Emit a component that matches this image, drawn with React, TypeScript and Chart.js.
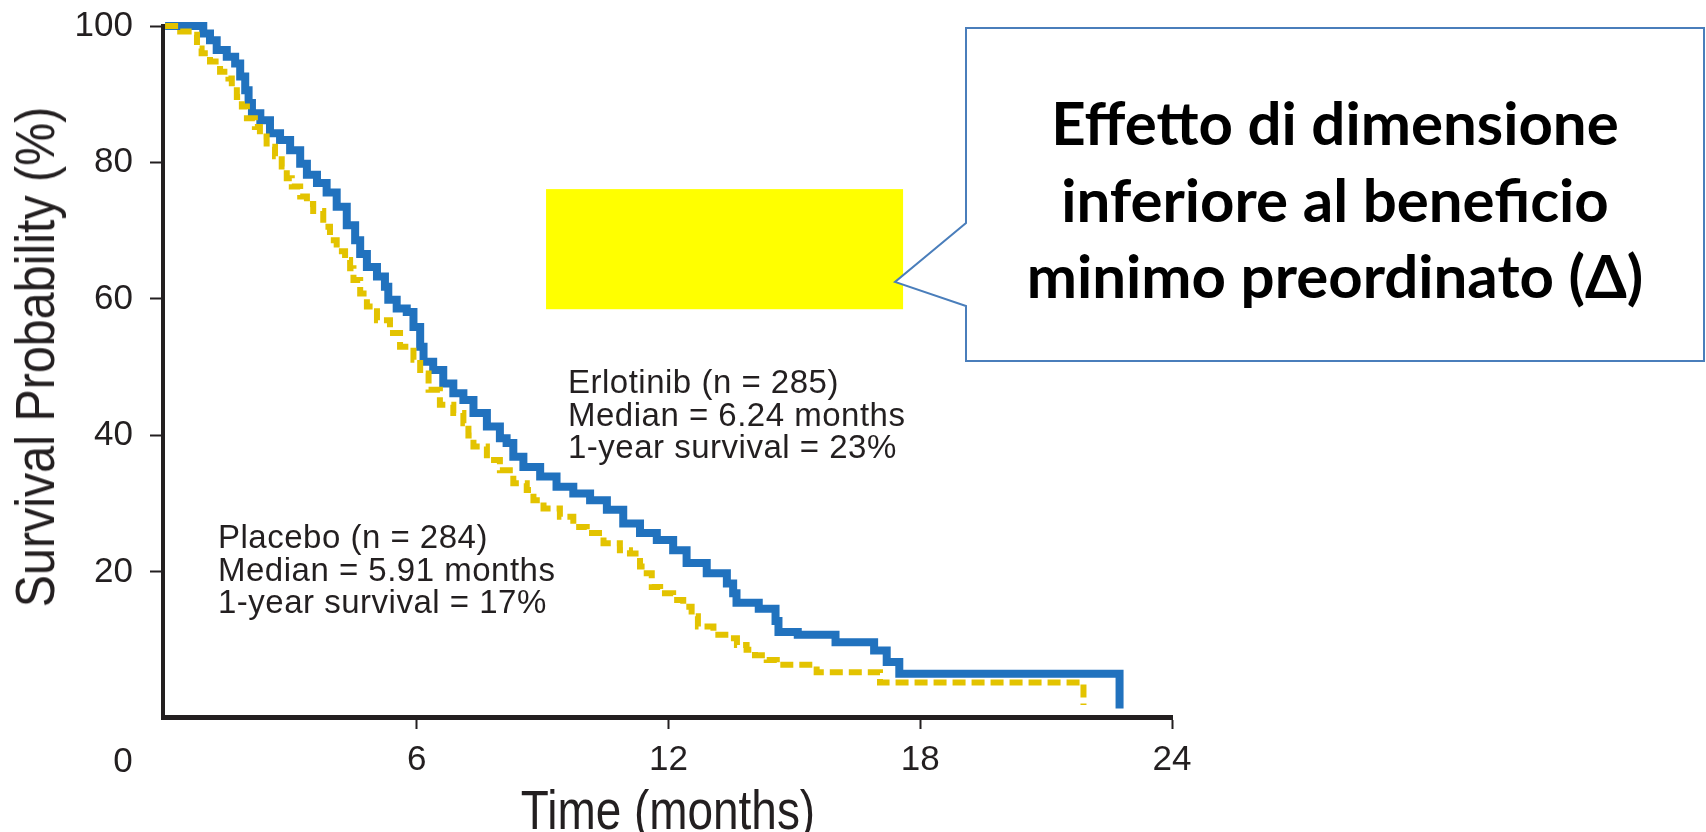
import React, { useEffect, useRef } from 'react';
import { Chart, registerables } from 'chart.js';

Chart.register(...registerables);

// ---- Data ----
const erlotinibMonths = [
  0, 0.63, 0.91, 1.07, 1.23, 1.47, 1.67, 1.79, 1.91, 1.99,
  2.07, 2.27, 2.5, 2.74, 2.98, 3.22, 3.38, 3.62, 3.85, 4.09,
  4.33, 4.53, 4.65, 4.81, 5.05, 5.24, 5.32, 5.52, 5.76, 5.92,
  6.08, 6.16, 6.39, 6.63, 6.87, 7.11, 7.35, 7.67, 7.98, 8.14,
  8.3, 8.54, 8.94, 9.33, 9.73, 10.13, 10.53, 10.92, 11.32, 11.72,
  12.11, 12.43, 12.91, 13.39, 13.54, 13.62, 14.15, 14.55, 14.62, 15.08,
  15.98, 16.9, 17.2, 17.5, 22.75,
];
const erlotinibSurvival = [
  100, 100, 98.9, 97.9, 96.5, 95.5, 94.5, 92.6, 90.6, 88.7,
  87.2, 86.2, 84.3, 83.3, 81.8, 79.8, 78.2, 77.0, 75.6, 73.5,
  70.8, 68.6, 66.6, 64.7, 63.3, 61.8, 59.9, 58.6, 58.1, 55.9,
  53.0, 50.8, 49.6, 47.6, 46.2, 45.2, 43.3, 41.3, 39.6, 38.9,
  36.9, 35.4, 34.0, 32.5, 31.5, 30.5, 29.1, 27.1, 25.7, 24.7,
  23.2, 21.3, 19.8, 18.3, 16.9, 15.5, 14.6, 12.8, 11.2, 10.8,
  9.7, 8.5, 6.8, 5.1, 0,
];
const placeboMonths = [
  0, 0.08, 0.36, 0.64, 0.76, 0.87, 1.07, 1.31, 1.51, 1.59,
  1.71, 1.83, 1.95, 2.14, 2.26, 2.42, 2.62, 2.78, 2.9, 3.02,
  3.22, 3.38, 3.53, 3.77, 3.93, 4.09, 4.29, 4.41, 4.49, 4.65,
  4.81, 5.05, 5.36, 5.6, 5.92, 6.08, 6.28, 6.55, 6.87, 7.11,
  7.23, 7.35, 7.67, 7.98, 8.3, 8.62, 8.78, 9.02, 9.41, 9.73,
  10.05, 10.45, 10.84, 11.08, 11.32, 11.48, 11.6, 11.8, 12.11, 12.35,
  12.55, 12.7, 13.07, 13.47, 13.63, 13.86, 14.06, 14.34, 14.58, 15.53,
  17.04, 21.89,
];
const placeboSurvival = [
  100, 100, 99.2, 98.7, 96.7, 96.0, 94.8, 93.3, 92.3, 91.1,
  89.6, 88.2, 86.5, 85.2, 83.8, 82.3, 80.9, 79.4, 77.7, 76.5,
  75.0, 73.9, 72.9, 70.6, 68.6, 67.0, 65.7, 64.5, 62.8, 60.8,
  58.9, 56.9, 55.0, 53.0, 51.1, 49.1, 46.7, 44.5, 43.3, 41.8,
  40.0, 38.4, 36.4, 34.9, 33.0, 32.0, 30.5, 29.3, 28.1, 26.6,
  25.7, 24.2, 23.2, 22.7, 20.8, 19.8, 17.8, 16.9, 15.9, 14.9,
  13.5, 12.0, 10.8, 10.3, 9.3, 8.6, 7.8, 7.1, 6.4, 5.3,
  3.8, 0.5,
];

const xTickValues = [0, 6, 12, 18, 24];
const yTickValues = [20, 40, 60, 80, 100];
const xRange = [-0.05, 24];
const yRange = [-1.25, 100];

// yellow highlight block, in data units (months, %)
const highlightMonths = [9.08, 17.59];
const highlightSurvival = [58.5, 76.1];

const xTitle = 'Time (months)';
const yTitle = 'Survival Probability (%)';
const erlotinibNotes = ['Erlotinib (n = 285)', 'Median = 6.24 months', '1-year survival = 23%'];
const placeboNotes = ['Placebo (n = 284)', 'Median = 5.91 months', '1-year survival = 17%'];
const calloutLines = ['Effetto di dimensione', 'inferiore al beneficio', 'minimo preordinato (Δ)'];

const TEXT = '#231F20';
const BLUE = '#2172BE';
const GOLD = '#E3C300';
const SANS = "'Liberation Sans', Arial, sans-serif";

const highlightPlugin = {
  id: 'highlightBlock',
  afterDatasetsDraw(chart: any) {
    const { ctx, scales } = chart;
    const x = scales.x;
    const y = scales.y;
    const l = x.getPixelForValue(highlightMonths[0]);
    const r = x.getPixelForValue(highlightMonths[1]);
    const t = y.getPixelForValue(highlightSurvival[1]);
    const b = y.getPixelForValue(highlightSurvival[0]);
    ctx.save();
    ctx.fillStyle = '#FFFF00';
    ctx.fillRect(l, t, r - l, b - t);
    ctx.restore();
  },
};

export default function App() {
  const canvasRef = useRef<HTMLCanvasElement | null>(null);

  useEffect(() => {
    const canvas = canvasRef.current;
    if (!canvas) return;
    const tickColor = (c: any) => (c.tick && c.tick.value === 0 ? 'rgba(0,0,0,0)' : TEXT);
    const chart = new Chart(canvas, {
      type: 'line',
      data: {
        datasets: [
          {
            label: 'Placebo',
            data: placeboMonths.map((m, i) => ({ x: m, y: placeboSurvival[i] })),
            borderColor: GOLD,
            borderWidth: 6,
            borderDash: [13, 6],
            borderCapStyle: 'butt',
            stepped: true,
            pointRadius: 0,
            fill: false,
            clip: false as any,
          },
          {
            label: 'Erlotinib',
            data: erlotinibMonths.map((m, i) => ({ x: m, y: erlotinibSurvival[i] })),
            borderColor: BLUE,
            borderWidth: 8,
            borderCapStyle: 'butt',
            borderJoinStyle: 'miter',
            stepped: true,
            pointRadius: 0,
            fill: false,
            clip: false as any,
          },
        ],
      },
      options: {
        responsive: false,
        animation: false,
        devicePixelRatio: 1,
        layout: { padding: { left: 0, top: 26, right: 534, bottom: 0 } },
        plugins: { legend: { display: false }, tooltip: { enabled: false } },
        scales: {
          x: {
            type: 'linear',
            min: xRange[0],
            max: xRange[1],
            afterBuildTicks: (s: any) => {
              s.ticks = xTickValues.map((v) => ({ value: v }));
            },
            afterFit: (s: any) => {
              s.height = 115;
              s.paddingLeft = 0;
              s.paddingRight = 0;
            },
            ticks: {
              callback: (v: any) => (v === 0 ? '' : String(v)),
              font: { family: SANS, size: 35 },
              color: TEXT,
              padding: 10,
              maxRotation: 0,
              autoSkip: false,
            },
            grid: {
              drawOnChartArea: false,
              drawTicks: true,
              tickLength: 12,
              tickWidth: 2,
              tickColor,
            },
            border: { display: true, color: TEXT, width: 5 },
          },
          y: {
            type: 'linear',
            min: yRange[0],
            max: yRange[1],
            afterBuildTicks: (s: any) => {
              s.ticks = yTickValues.map((v) => ({ value: v }));
            },
            afterFit: (s: any) => {
              s.width = 163;
              s.paddingTop = 0;
              s.paddingBottom = 0;
            },
            ticks: {
              font: { family: SANS, size: 35 },
              color: TEXT,
              padding: 17,
            },
            grid: {
              drawOnChartArea: false,
              drawTicks: true,
              tickLength: 13,
              tickWidth: 2,
              tickColor,
            },
            border: { display: true, color: TEXT, width: 4 },
          },
        },
      } as any,
      plugins: [highlightPlugin],
    });
    return () => chart.destroy();
  }, []);

  const noteStyle: React.CSSProperties = {
    position: 'absolute',
    fontFamily: SANS,
    fontSize: 33,
    lineHeight: '32.5px',
    color: TEXT,
    whiteSpace: 'pre',
    letterSpacing: '0.5px',
  };

  return (
    <div style={{ position: 'fixed', left: 0, top: 0, width: 1706, height: 832, background: '#fff', overflow: 'hidden' }}>
      <canvas ref={canvasRef} width={1706} height={832} style={{ display: 'block', width: 1706, height: 832 }} />
      {/* y axis title (condensed) */}
      <div
        style={{
          position: 'absolute',
          left: 35,
          top: 357,
          transform: 'translate(-50%, -50%) rotate(-90deg) scaleX(0.865)',
          fontFamily: SANS,
          fontSize: 56,
          lineHeight: 1,
          color: TEXT,
          whiteSpace: 'nowrap',
        }}
      >
        {yTitle}
      </div>
      {/* x axis title (condensed) */}
      <div
        style={{
          position: 'absolute',
          left: 668,
          top: 782,
          transform: 'translateX(-50%) scaleX(0.82)',
          fontFamily: SANS,
          fontSize: 56,
          lineHeight: '56px',
          color: TEXT,
          whiteSpace: 'nowrap',
        }}
      >
        {xTitle}
      </div>
      {/* shared origin label */}
      <div
        style={{
          position: 'absolute',
          left: 123,
          top: 759,
          transform: 'translate(-50%, -50%)',
          fontFamily: SANS,
          fontSize: 35,
          lineHeight: 1,
          color: TEXT,
        }}
      >
        0
      </div>
      <div style={{ ...noteStyle, left: 568, top: 366 }}>{erlotinibNotes.join('\n')}</div>
      <div style={{ ...noteStyle, left: 218, top: 521 }}>{placeboNotes.join('\n')}</div>
      {/* callout */}
      <svg width={1706} height={832} style={{ position: 'absolute', left: 0, top: 0, pointerEvents: 'none' }}>
        <polygon
          points="966,28 1704,28 1704,361 966,361 966,306 895,282 966,223"
          fill="#ffffff"
          stroke="#4A7EBB"
          strokeWidth={2}
        />
      </svg>
      <div
        style={{
          position: 'absolute',
          left: 966,
          width: 738,
          top: 84,
          textAlign: 'center',
          fontFamily: "Lato, 'Open Sans', sans-serif",
          fontWeight: 700,
          fontSize: 60,
          lineHeight: '76.5px',
          color: '#000',
          whiteSpace: 'pre',
        }}
      >
        {calloutLines.join('\n')}
      </div>
    </div>
  );
}
